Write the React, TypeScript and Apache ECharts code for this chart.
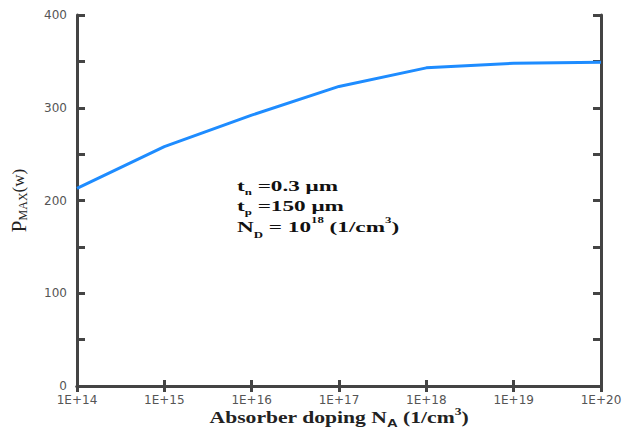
import React, { useEffect, useRef } from "react";
import * as echarts from "echarts";

const categories = ["1E+14", "1E+15", "1E+16", "1E+17", "1E+18", "1E+19", "1E+20"];
const pmax = [213, 258, 292, 323, 343, 348, 349];
const yMin = 0;
const yMax = 400;
const yInterval = 100;

const AXIS_COLOR = "#444444";
const LABEL_COLOR = "#555555";
const SERIF = "'Liberation Serif', 'DejaVu Serif', serif";
const SANS = "'DejaVu Sans', 'Open Sans', sans-serif";

export default function App() {
  const ref = useRef<HTMLDivElement>(null);
  useEffect(() => {
    if (!ref.current) return;
    const chart = echarts.init(ref.current, undefined, { renderer: "svg" });
    const axisLine = { show: true, lineStyle: { color: AXIS_COLOR, width: 3 } };
    const tickStyle = { color: AXIS_COLOR, width: 3 };
    chart.setOption({
      animation: false,
      backgroundColor: "#ffffff",
      grid: { left: 77, right: 29, top: 15, bottom: 44 },
      xAxis: [
        {
          type: "category",
          data: categories,
          boundaryGap: false,
          axisLine,
          axisTick: { show: true, inside: true, length: 6, lineStyle: tickStyle },
          axisLabel: { color: LABEL_COLOR, fontSize: 12, fontFamily: SANS, margin: 8 },
          splitLine: { show: false },
        },
        {
          type: "category",
          data: categories,
          boundaryGap: false,
          position: "top",
          axisLine,
          axisTick: { show: true, inside: true, length: 6, lineStyle: tickStyle },
          axisLabel: { show: false },
          splitLine: { show: false },
        },
      ],
      yAxis: [
        {
          type: "value",
          min: yMin,
          max: yMax,
          interval: yInterval,
          axisLine,
          axisTick: { show: true, inside: true, length: 8, lineStyle: tickStyle },
          minorTick: { show: true, splitNumber: 2, length: 8, lineStyle: tickStyle },
          axisLabel: { color: LABEL_COLOR, fontSize: 12, fontFamily: SANS, margin: 10 },
          splitLine: { show: false },
          name: "{p|P}{s|MAX}{w|(w)}",
          nameLocation: "middle",
          nameRotate: 90,
          nameGap: 48,
          nameTextStyle: {
            rich: {
              p: { fontFamily: SERIF, fontSize: 21, color: "#222" },
              s: { fontFamily: SERIF, fontSize: 12, color: "#222", verticalAlign: "bottom", padding: [8, 0, 0, 0] },
              w: { fontFamily: SERIF, fontSize: 17, color: "#222" },
            },
          },
        },
        {
          type: "value",
          min: yMin,
          max: yMax,
          interval: yInterval,
          position: "right",
          axisLine,
          axisTick: { show: true, inside: true, length: 8, lineStyle: tickStyle },
          minorTick: { show: true, splitNumber: 2, length: 8, lineStyle: tickStyle },
          axisLabel: { show: false },
          splitLine: { show: false },
        },
      ],
      series: [
        {
          type: "line",
          data: pmax,
          xAxisIndex: 0,
          yAxisIndex: 0,
          showSymbol: false,
          symbol: "none",
          lineStyle: { color: "#1e8cff", width: 3 },
          z: 1,
        },
      ],
      graphic: [
        {
          type: "text",
          x: 339,
          y: 418,
          scaleX: 1.35,
          style: {
            text: "{a|Absorber doping N}{s|A}{a| (1/cm}{sup|3}{a|)}",
            align: "center",
            verticalAlign: "middle",
            rich: {
              a: { fontFamily: SERIF, fontWeight: "bold", fontSize: 16, fill: "#222", lineHeight: 20 },
              s: { fontFamily: "'Liberation Sans', sans-serif", fontWeight: "bold", fontSize: 11, fill: "#222", verticalAlign: "bottom", lineHeight: 14 },
              sup: { fontFamily: SERIF, fontWeight: "bold", fontSize: 10, fill: "#222", verticalAlign: "top", lineHeight: 22 },
            },
          },
        },
        {
          type: "text",
          x: 237,
          y: 176,
          scaleX: 1.6,
          style: {
            text: "{a|t}{s|n}{a| =0.3 μm}\n{a|t}{s|p}{a| =150 μm}\n{a|N}{s|D}{a| = 10}{sup|18}{a| (1/cm}{sup|3}{a|)}",
            align: "left",
            verticalAlign: "top",
            rich: {
              a: { fontFamily: SERIF, fontWeight: "bold", fontSize: 14.5, fill: "#111", lineHeight: 20 },
              s: { fontFamily: SERIF, fontWeight: "bold", fontSize: 8, fill: "#111", verticalAlign: "bottom", lineHeight: 13 },
              sup: { fontFamily: SERIF, fontWeight: "bold", fontSize: 8, fill: "#111", verticalAlign: "top", lineHeight: 23 },
            },
          },
        },
      ],
    });
    return () => chart.dispose();
  }, []);
  return <div ref={ref} style={{ position: "fixed", left: 0, top: 0, width: 630, height: 430 }} />;
}
